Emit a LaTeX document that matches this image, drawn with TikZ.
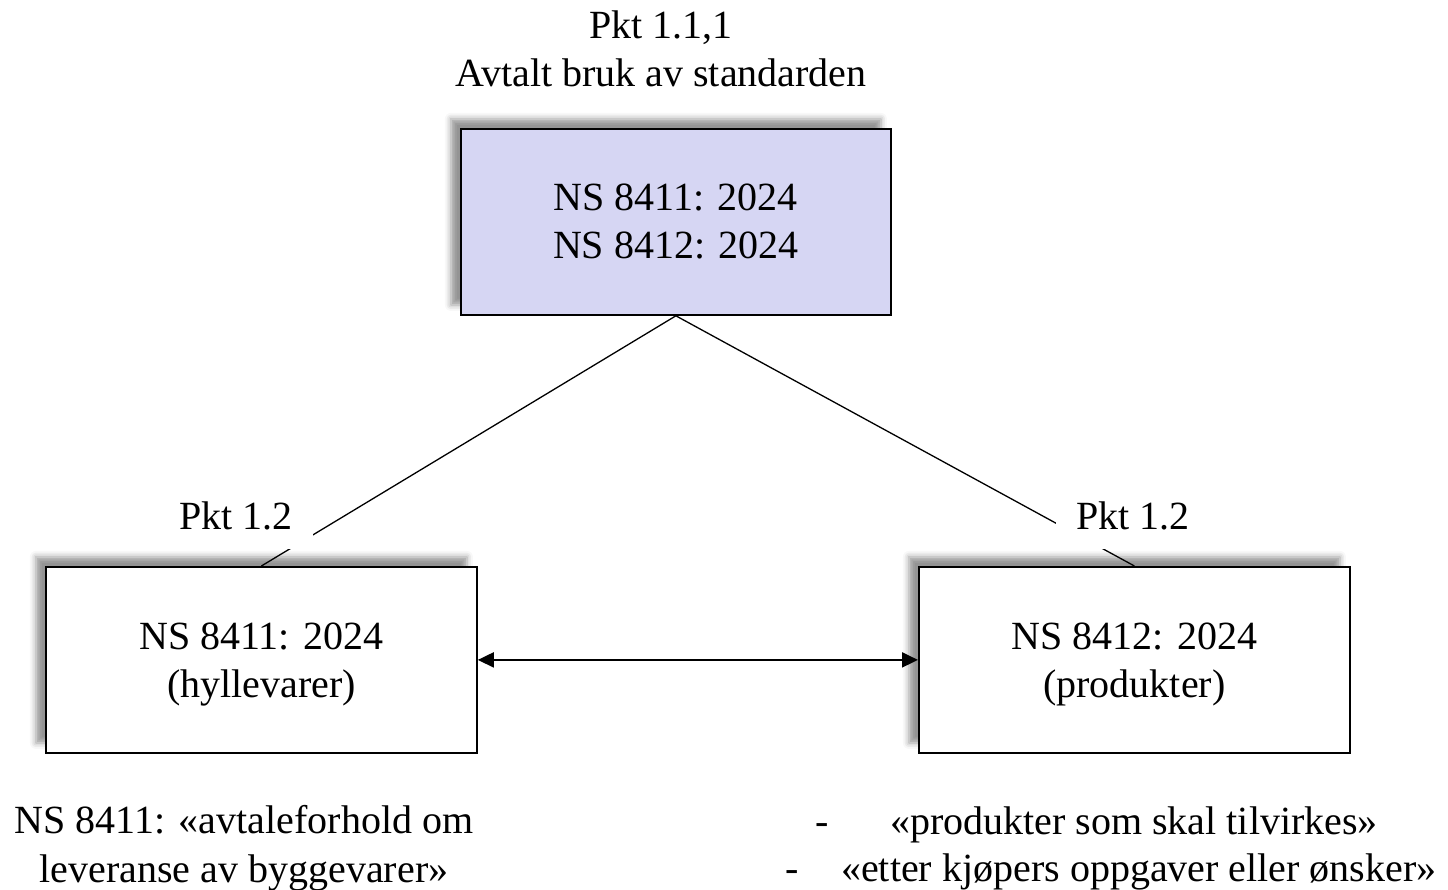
\documentclass[tikz,border=0pt]{standalone}
\usepackage{fontspec}
\setmainfont{Liberation Serif}
\usetikzlibrary{arrows.meta,shadows.blur}
\definecolor{lav}{RGB}{214,214,243}
\tikzset{
  txt/.style={font=\fontsize{40}{48}\selectfont, inner sep=0pt},
  boxnode/.style={draw=black, line width=1.8pt, minimum width=431pt, minimum height=186pt,
    inner sep=0pt, align=center, anchor=north west, font=\fontsize{40}{48}\selectfont,
    blur shadow={shadow xshift=-10pt, shadow yshift=10pt, shadow blur radius=6pt, shadow opacity=42}},
  lbl/.style={txt, fill=white, minimum width=154pt, minimum height=66pt},
  conn/.style={line width=1.3pt},
  dblarrow/.style={line width=2pt, {Triangle[length=16pt,width=15pt]}-{Triangle[length=16pt,width=15pt]}}
}
\begin{document}
\begin{tikzpicture}[x=1pt,y=-1pt]
\useasboundingbox (0,0) rectangle (1448,889);
\node[txt, align=center] (title) at (661,48.5) {Pkt 1.1,1\\Avtalt bruk av standarden};
\node[boxnode, fill=lav, minimum width=430pt] (top) at (460,128) {NS 8411: 2024\\NS 8412: 2024};
\node[boxnode, fill=white, text depth=0pt] (left) at (45,566) {NS 8411: 2024\\(hyllevarer)};
\node[boxnode, fill=white, text depth=0pt] (right) at (918,566) {NS 8412: 2024\\(produkter)};
\draw[conn] (top.south) -- (left.north);
\draw[conn] (top.south) -- (right.north);
\node[lbl] (pl) at (236,516) {Pkt 1.2};
\node[lbl] (pr) at (1133,516) {Pkt 1.2};
\draw[dblarrow] (left.east) -- (right.west);
\node[txt, align=center, font=\fontsize{40}{49}\selectfont] (notel) at (244,848) {NS 8411: «avtaleforhold om\\leveranse av byggevarer»};
\node[txt, anchor=base west] (noter1) at (815,834) {-\hspace{61.7pt}«produkter som skal tilvirkes»};
\node[txt, anchor=base west] (noter2) at (785,881) {-\hspace{42.7pt}«etter kjøpers oppgaver eller ønsker»};
\end{tikzpicture}
\end{document}
